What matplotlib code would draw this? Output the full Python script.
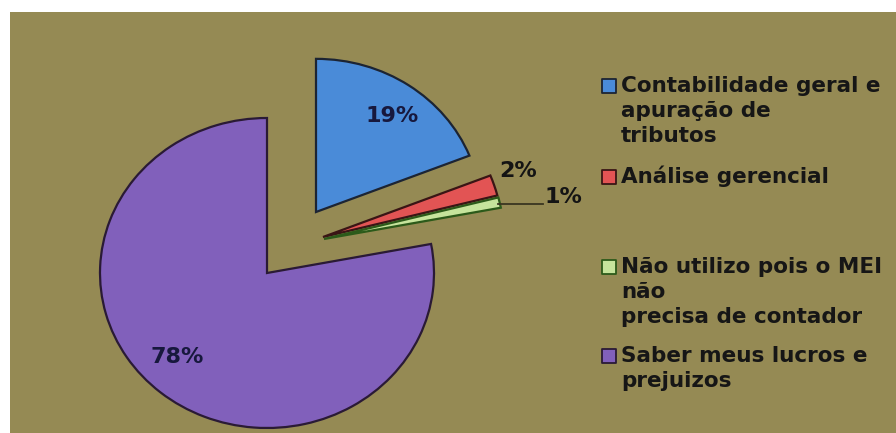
import matplotlib.pyplot as plt
from matplotlib.patches import Wedge, Rectangle

categorias = ["Contabilidade geral e\napuração de\ntributos",
              "Análise gerencial",
              "Não utilizo pois o MEI\nnão\nprecisa de contador",
              "Saber meus lucros e\nprejuizos"]
percentuais = [19, 2, 1, 78]

cores = ['#4a8bd8', '#e25454', '#c6e49c', '#8160bb']
bordas = ['#1c2433', '#3a1515', '#2c5a1a', '#2a1a35']
fundo = '#958a54'

# pixel layout of the figure
W, H = 896, 433
K = 155 / 167  # pie is drawn slightly flattened

centros = [(316, 212), (323, 237), (324, 239), (267, 273)]
raios = [165, 180, 180, 167]
rotulos_xy = [(392, 116), (518, 171), (563, 197), (177, 357)]
rotulos_cor = ['#17183d', '#141414', '#141414', '#17183d']
legenda_y = [92, 183, 273, 362]


def py(y):
    return (H - y) / K


fig = plt.figure(figsize=(W / 100, H / 100), dpi=100)
fig.patch.set_facecolor('white')
ax = fig.add_axes([0, 0, 1, 1])
ax.set_xlim(0, W)
ax.set_ylim(0, H / K)
ax.axis('off')

ax.add_patch(Rectangle((10, 0), W, py(12), facecolor=fundo, edgecolor='none', zorder=0))

# fatias, sentido horario a partir do topo
inicio = 90.0
for v, (cx, cy), r, cor, borda in zip(percentuais, centros, raios, cores, bordas):
    fim = inicio - 3.6 * v
    ax.add_patch(Wedge((cx, py(cy)), r, fim, inicio,
                       facecolor=cor, edgecolor=borda, linewidth=1.6, zorder=2))
    inicio = fim

for v, (tx, ty), c in zip(percentuais, rotulos_xy, rotulos_cor):
    ax.text(tx, py(ty), f"{v}%", ha='center', va='center', fontsize=16,
            fontweight='bold', color=c, family='DejaVu Sans', zorder=4)

# linha de chamada do 1%
ax.plot([498, 543], [py(204), py(204)], color='#3a3520', linewidth=1.3, zorder=3)

# legenda
for nome, y0, cor, borda in zip(categorias, legenda_y, cores, bordas):
    ax.scatter(609, py(y0 - 6), s=105, marker='s', c=cor, edgecolors=borda,
               linewidths=1.3, zorder=4)
    for i, linha in enumerate(nome.split('\n')):
        ax.text(621, py(y0 + 25 * i), linha, ha='left', va='baseline',
                fontsize=15.5, fontweight='bold', color='#161616',
                family='DejaVu Sans', zorder=4)

fig.savefig('out.png', dpi=100)
